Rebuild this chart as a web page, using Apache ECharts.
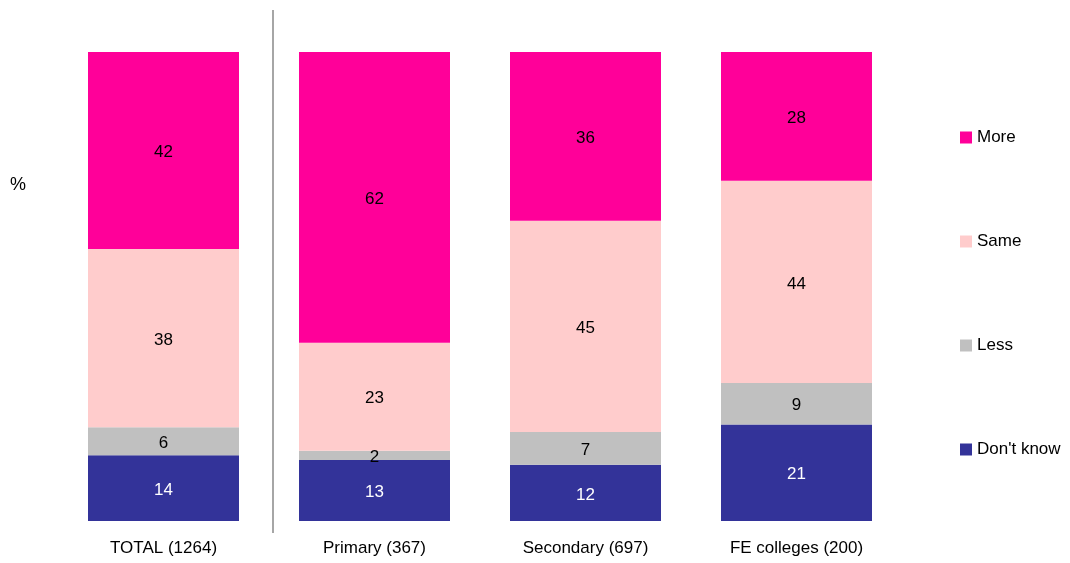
<!DOCTYPE html>
<html lang="en">
<head>
    <meta charset="UTF-8">
    <title>Chart</title>
    <script src="https://cdn.jsdelivr.net/npm/echarts@6/dist/echarts.min.js"></script>
    <style>
        html, body { margin: 0; padding: 0; width: 100%; height: 100%; background: #fff; }
        #chart { width: 1070px; height: 563px; }
    </style>
</head>
<body>
<div id="chart"></div>
<script>
    var categories = ['TOTAL (1264)', 'Primary (367)', 'Secondary (697)', 'FE colleges (200)'];
    var dontKnow = [14, 13, 12, 21];
    var less = [6, 2, 7, 9];
    var same = [38, 23, 45, 44];
    var more = [42, 62, 36, 28];

    var seriesDefs = [
        { name: "Don't know", data: dontKnow, color: '#333399', text: '#fff' },
        { name: 'Less', data: less, color: '#C0C0C0', text: '#000' },
        { name: 'Same', data: same, color: '#FFCCCC', text: '#000' },
        { name: 'More', data: more, color: '#FF0099', text: '#000' }
    ];

    // each bar is drawn as a share of its own total (labels keep the printed values)
    var totals = categories.map(function (c, i) {
        return seriesDefs.reduce(function (s, d) { return s + d.data[i]; }, 0);
    });

    var chart = echarts.init(document.getElementById('chart'));
    var font = "'Liberation Sans', Arial, sans-serif";

    chart.setOption({
        animation: false,
        grid: { left: 58, right: 168, top: 52, bottom: 42 },
        xAxis: {
            type: 'category',
            data: categories,
            axisLine: { show: false },
            axisTick: { show: false },
            axisLabel: { color: '#000', fontSize: 17, fontFamily: font, margin: 19 }
        },
        yAxis: {
            type: 'value',
            min: 0,
            max: 100,
            show: false
        },
        legend: {
            orient: 'vertical',
            left: 955,
            top: 124,
            itemGap: 87,
            itemWidth: 12,
            itemHeight: 12,
            icon: 'rect',
            textStyle: { color: '#000', fontSize: 17, fontFamily: font },
            data: ['More', 'Same', 'Less', "Don't know"]
        },
        graphic: [
            { type: 'line', shape: { x1: 273, y1: 10, x2: 273, y2: 533 }, style: { stroke: '#888', lineWidth: 1.5 } },
            { type: 'text', left: 10, top: 176, style: { text: '%', fontSize: 18, fontFamily: font, fill: '#000' } }
        ],
        series: seriesDefs.map(function (d) {
            return {
                name: d.name,
                type: 'bar',
                stack: 'all',
                barWidth: 151,
                itemStyle: { color: d.color },
                label: {
                    show: true,
                    position: 'inside',
                    offset: [0, 2],
                    color: d.text,
                    fontSize: 17,
                    fontFamily: font,
                    formatter: function (p) { return d.data[p.dataIndex]; }
                },
                data: d.data.map(function (v, i) { return v / totals[i] * 100; })
            };
        })
    });
</script>
</body>
</html>
